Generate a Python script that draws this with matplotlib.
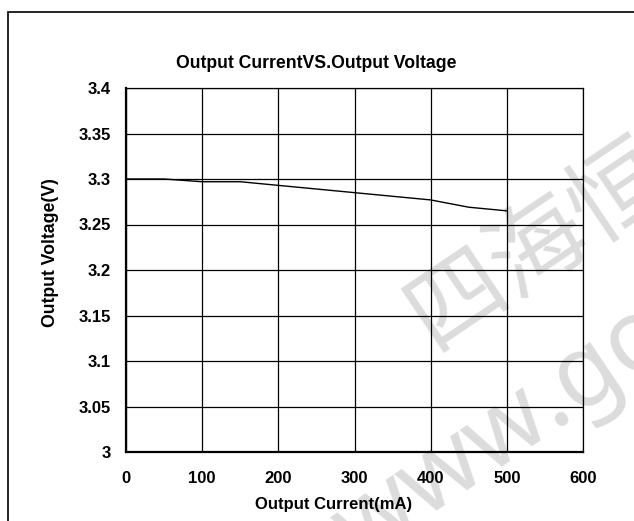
import matplotlib
matplotlib.use('Agg')
import matplotlib.pyplot as plt
from matplotlib.patches import Rectangle

# output current (mA) vs output voltage (V)
current = [0, 50, 100, 150, 200, 250, 300, 350, 400, 450, 500]
voltage = [3.300, 3.300, 3.297, 3.297, 3.293, 3.289, 3.285, 3.281, 3.277, 3.269, 3.265]
xticks = [0, 100, 200, 300, 400, 500, 600]
yticks = [3.0, 3.05, 3.1, 3.15, 3.2, 3.25, 3.3, 3.35, 3.4]
ytick_labels = ['3', '3.05', '3.1', '3.15', '3.2', '3.25', '3.3', '3.35', '3.4']

plt.rcParams['font.family'] = ['Liberation Sans', 'DejaVu Sans']

fig = plt.figure(figsize=(6.34, 5.21), dpi=100)

# outer frame
fig.patches.append(Rectangle((8 / 634, -0.1), 1.2, 1 - 12 / 521 + 0.1,
                             transform=fig.transFigure, fill=False,
                             ec='black', lw=1.2, zorder=-2))

# watermark (behind the plot)
fig.text(0.85, 0.53, '四海恒', family=['Noto Sans CJK SC', 'DejaVu Sans'],
         fontsize=70, color='#dcdcdc', rotation=34, ha='center', va='center',
         zorder=-1)
fig.text(0.795, 0.17, 'www.go', family=['Noto Sans', 'DejaVu Sans'],
         fontsize=72, color='#dcdcdc', rotation=34, ha='center', va='center',
         zorder=-1)

ax = fig.add_axes([126 / 634, 1 - 452 / 521, 457 / 634, 364 / 521])
ax.set_zorder(1)
ax.patch.set_alpha(0)
ax.plot(current, voltage, color='black', lw=1)

ax.set_xlim(0, 600)
ax.set_ylim(3.0, 3.4)
ax.set_xticks(xticks)
ax.set_yticks(yticks)
ax.set_yticklabels(ytick_labels)
ax.grid(True, color='black', lw=0.9)
ax.set_axisbelow(True)
ax.tick_params(axis='both', length=0, labelsize=12)
ax.tick_params(axis='x', pad=14)
ax.tick_params(axis='y', pad=11)
for lab in ax.get_xticklabels() + ax.get_yticklabels():
    lab.set_fontweight('bold')
for side in ['left', 'bottom']:
    ax.spines[side].set_linewidth(1.6)
for side in ['top', 'right']:
    ax.spines[side].set_linewidth(0.9)

fig.text(316 / 634, 1 - 63 / 521, 'Output CurrentVS.Output Voltage',
         fontsize=12.7, fontweight='bold', ha='center', va='center')
fig.text(334 / 634, 1 - 505 / 521, 'Output Current(mA)',
         fontsize=12, fontweight='bold', ha='center', va='center')
fig.text(51 / 634, 1 - 253 / 521, 'Output Voltage(V)',
         fontsize=12.7, fontweight='bold', ha='center', va='center', rotation=90)

fig.savefig('out.png', dpi=100)
